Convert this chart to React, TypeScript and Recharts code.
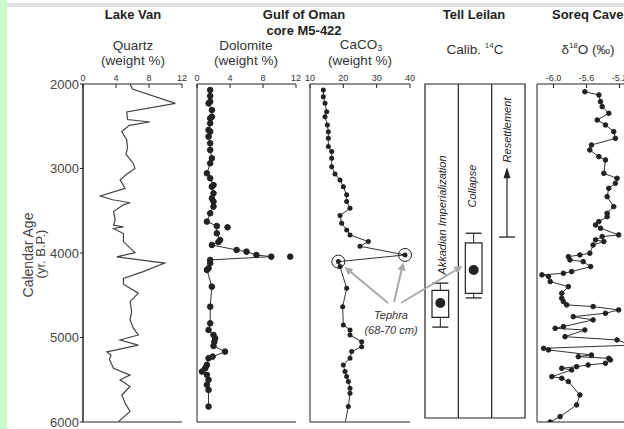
import React from 'react';
import { LineChart, Line, XAxis, YAxis, ReferenceLine, ReferenceArea, ReferenceDot } from 'recharts';

// ---- data ----
const ageTicks = [2000, 3000, 4000, 5000, 6000];
const markedAges = [3000, 4000, 5000];
const minorAgeTicks = Array.from({ length: 41 }, (_, i) => 2000 + i * 100);

const quartzTicks = [0, 4, 8, 12];
const dolomiteTicks = [0, 4, 8, 12];
const caco3Ticks = [10, 20, 30, 40];
const d18oTicks = [-6.0, -5.6, -5.2, -4.8];

const lakeVanAge = [2000, 2060, 2230, 2330, 2420, 2450, 2490, 2565, 2660, 2760, 2830, 2940, 3000, 3060, 3135, 3235, 3325, 3370, 3405, 3430,
  3510, 3610, 3670, 3690, 3710, 3770, 3865, 3940, 3995, 4045, 4120, 4220, 4300, 4370, 4475, 4575, 4695, 4790, 4890, 4970,
  5030, 5090, 5170, 5210, 5260, 5365, 5445, 5500, 5580, 5680, 5775, 5875, 5995];
const lakeVanQuartz = [5.7, 6.0, 11.2, 5.3, 5.4, 8.1, 5.6, 4.7, 5.3, 5.4, 5.2, 6.1, 6.3, 5.4, 4.5, 5.1, 2.1, 3.6, 5.7, 4.9,
  3.7, 3.9, 3.7, 4.9, 3.7, 4.9, 4.9, 5.7, 6.3, 4.1, 9.9, 7.3, 4.9, 4.9, 6.7, 5.7, 5.9, 5.7, 6.1, 6.7,
  4.5, 6.7, 2.9, 3.4, 3.2, 3.7, 5.7, 4.5, 5.7, 4.7, 5.1, 5.7, 4.3];

const dolomiteAge = [2071, 2142, 2209, 2229, 2308, 2387, 2406, 2465, 2544, 2564, 2623, 2702, 2781, 2879, 2938, 3057, 3116, 3195, 3215, 3293,
  3352, 3392, 3451, 3530, 3628, 3680, 3767, 3846, 3870, 3905, 3964, 3984, 4023, 4043, 4082, 4121, 4180, 4200, 4398, 4635,
  4832, 4911, 4970, 5010, 5050, 5100, 5167, 5226, 5245, 5324, 5363, 5403, 5442, 5501, 5560, 5620, 5817];
const dolomiteValue = [1.6, 1.6, 1.6, 1.4, 1.8, 1.8, 1.6, 1.6, 1.4, 1.6, 1.4, 1.6, 1.6, 1.8, 1.6, 1.2, 1.6, 2.0, 1.8, 2.0,
  1.8, 2.0, 2.0, 1.6, 1.2, 2.4, 2.4, 2.8, 2.6, 1.8, 4.8, 6.0, 7.2, 9.0, 1.6, 1.6, 1.4, 1.2, 1.8, 1.6,
  1.6, 1.4, 2.0, 2.2, 2.1, 2.0, 3.4, 1.9, 1.4, 1.2, 1.0, 0.6, 1.2, 1.4, 1.2, 1.4, 1.4];
const dolomiteOutlierAge = [3696, 4043];
const dolomiteOutlierValue = [3.7, 11.3];

const caco3Age = [2071, 2150, 2229, 2327, 2387, 2485, 2564, 2643, 2741, 2800, 2879, 2978, 3065, 3135, 3215, 3312, 3392, 3471, 3557, 3648,
  3727, 3786, 3865, 3920, 4023, 4102, 4161, 4417, 4635, 4852, 4911, 4970, 5049, 5108, 5167, 5245, 5324, 5403, 5462, 5521,
  5600, 5659, 5817, 5995];
const caco3Value = [14.0, 14.0, 14.5, 15.0, 14.5, 15.2, 15.5, 15.5, 15.5, 16.5, 16.5, 16.5, 17.5, 19.0, 20.0, 21.0, 21.0, 22.0, 19.0, 19.5,
  21.0, 22.0, 27.5, 25.0, 38.5, 18.5, 19.0, 21.0, 19.8, 20.0, 22.0, 22.0, 25.5, 25.5, 22.5, 22.0, 20.0, 20.5, 21.0, 21.5,
  22.0, 22.0, 21.5, 20.6];
const tephraAge = [4023, 4102];

const soreqAge = [2091, 2130, 2209, 2268, 2347, 2426, 2485, 2564, 2643, 2722, 2781, 2860, 2899, 3057, 3116, 3175, 3234, 3333, 3451, 3530,
  3570, 3628, 3668, 3707, 3786, 3806, 3845, 3865, 3905, 4003, 4023, 4043, 4082, 4102, 4161, 4220, 4240, 4259, 4279, 4338,
  4398, 4476, 4535, 4575, 4614, 4634, 4674, 4713, 4753, 4792, 4871, 4891, 4911, 4990, 5029, 5090, 5128, 5147, 5207, 5227,
  5246, 5266, 5305, 5325, 5345, 5364, 5384, 5463, 5483, 5522, 5680, 5798, 5936, 6000];
const soreqD18O = [-5.62, -5.45, -5.43, -5.41, -5.33, -5.47, -5.37, -5.27, -5.25, -5.54, -5.56, -5.45, -5.37, -5.39, -5.23, -5.25, -5.33, -5.35, -5.27, -5.35,
  -5.35, -5.45, -5.49, -5.43, -5.21, -5.41, -5.49, -5.39, -5.52, -5.56, -5.68, -5.82, -5.80, -5.64, -5.55, -5.78, -5.88, -6.14, -6.06, -6.04,
  -5.82, -5.90, -5.90, -5.88, -5.84, -5.52, -5.21, -5.37, -5.76, -5.52, -5.88, -5.98, -5.62, -5.86, -5.23, -5.05, -6.12, -6.06, -5.54, -5.70,
  -5.33, -5.31, -5.37, -5.58, -5.72, -5.90, -5.78, -6.02, -5.90, -5.82, -5.68, -5.72, -5.92, -6.04];

// Tell Leilan calibrated 14C ranges (yr B.P.)
const leilanEvents = ['Akkadian Imperialization', 'Collapse'];
const leilanMid = [4590, 4200];
const leilanBoxTop = [4440, 3880];
const leilanBoxBottom = [4760, 4475];
const leilanWhiskerTop = [4355, 3765];
const leilanWhiskerBottom = [4875, 4530];
const resettlementLabel = 'Resettlement';
const resettlementFrom = 3810;
const resettlementTo = 2985;

const zip = (ages: number[], vals: number[]) => ages.map((age, i) => ({ age, v: vals[i] }));

// ---- layout ----
const FONT = '"Liberation Sans", Arial, Helvetica, sans-serif';
const W = 624;
const H = 429;
const TOP = 84;
const BOTTOM = 422;
const SIDE = 30;
const TOP_AXIS_H = 20;
const INK = '#222';
const COL_OFF = 0.46; // box centre inside each Tell Leilan column

// an axis of width/height 0 is not drawn at all, so the tick-only axes get 1px
function panelAxes(domain: [number, number], ticks: number[], fmt?: (v: number) => string) {
  return [
    <XAxis key="xt" xAxisId="top" orientation="top" type="number" domain={domain} ticks={ticks} allowDataOverflow
      interval={0} height={TOP_AXIS_H} tickSize={-4} tickMargin={7} stroke={INK}
      tick={{ fontSize: 9, fill: '#333' }} tickFormatter={fmt} />,
    <XAxis key="xb" xAxisId="bottom" orientation="bottom" type="number" domain={domain} ticks={ticks} allowDataOverflow
      interval={0} height={1} tickSize={-5} tick={false} stroke={INK} />,
    <YAxis key="y" type="number" dataKey="age" domain={[2000, 6000]} allowDataOverflow ticks={minorAgeTicks}
      interval={0} width={1} tick={false} tickSize={-4} stroke={INK} />,
  ];
}

function Panel({ left, right, children }: { left: number; right: number; children: React.ReactNode }) {
  return (
    <div style={{ position: 'absolute', left: left - SIDE, top: 0 }}>
      <LineChart layout="vertical" width={right - left + 2 * SIDE} height={H}
        margin={{ top: TOP - TOP_AXIS_H, right: SIDE, bottom: H - BOTTOM - 1, left: SIDE - 1 }}>
        {children}
      </LineChart>
    </div>
  );
}

const dotStyle = { r: 2.6, fill: INK, stroke: INK, strokeWidth: 1 };

const tephraArrows = [
  [388, 303, 346, 268],
  [394, 302, 403, 264],
  [401, 303, 461, 267],
];

export default function App() {
  const caco3Data = zip(caco3Age, caco3Value);
  const tephraPoints = tephraAge.map((a) => caco3Data.find((d) => d.age === a)!);
  const leilanData = leilanMid.map((age, i) => ({ age, col: i + COL_OFF }));

  return (
    <div style={{ position: 'absolute', left: 0, top: 0, width: W, height: H, overflow: 'hidden', background: '#fff', fontFamily: FONT }}>
      <div style={{ position: 'absolute', left: 0, top: 0, width: 7, height: H, background: '#c8fcc8' }} />
      <div style={{ position: 'absolute', left: 7, top: 3, width: W - 7, height: 4, background: '#e0e0e8' }} />

      {/* age axis + dotted time lines */}
      <div style={{ position: 'absolute', left: 0, top: 0 }}>
        <LineChart width={W} height={H} margin={{ top: TOP, right: 0, bottom: H - BOTTOM, left: 83 - 44 }}>
          <XAxis type="number" domain={[0, 1]} hide allowDataOverflow />
          <YAxis type="number" domain={[2000, 6000]} reversed allowDataOverflow ticks={ageTicks} interval={0} width={44}
            tickSize={3} tickMargin={1} stroke={INK} tick={{ fontSize: 13, fill: '#444' }} />
          {markedAges.map((a) => (
            <ReferenceLine key={a} y={a} stroke="#777" strokeWidth={1.4} strokeDasharray="1.5 1.5" />
          ))}
        </LineChart>
      </div>

      {/* Lake Van quartz */}
      <Panel left={83} right={182}>
        {panelAxes([0, 12], quartzTicks)}
        <Line xAxisId="top" data={zip(lakeVanAge, lakeVanQuartz)} dataKey="v" stroke="#444" strokeWidth={1.2}
          dot={false} isAnimationActive={false} />
      </Panel>

      {/* Gulf of Oman dolomite */}
      <Panel left={197} right={296}>
        {panelAxes([0, 12], dolomiteTicks)}
        <Line xAxisId="top" data={zip(dolomiteAge, dolomiteValue)} dataKey="v" stroke="#333" strokeWidth={1}
          dot={{ ...dotStyle, r: 2.8 }} isAnimationActive={false} />
        <Line xAxisId="top" data={zip(dolomiteOutlierAge, dolomiteOutlierValue)} dataKey="v" stroke="none"
          dot={{ ...dotStyle, r: 2.8 }} isAnimationActive={false} />
      </Panel>

      {/* Gulf of Oman CaCO3 */}
      <Panel left={310} right={410}>
        {panelAxes([10, 40], caco3Ticks)}
        <Line xAxisId="top" data={caco3Data} dataKey="v" stroke="#333" strokeWidth={1} isAnimationActive={false}
          dot={(p: any) =>
            p.index === caco3Data.length - 1
              ? <g key={`d${p.index}`} />
              : <circle key={`d${p.index}`} cx={p.cx} cy={p.cy} r={2.5} fill={INK} />}
        />
        {tephraPoints.map((d) => (
          <ReferenceDot key={d.age} xAxisId="top" x={d.v} y={d.age} r={6.5} fill="none" stroke={INK} strokeWidth={1} />
        ))}
      </Panel>

      {/* Tell Leilan */}
      <div style={{ position: 'absolute', left: 425 - SIDE, top: 0 }}>
        <LineChart layout="vertical" width={100 + 2 * SIDE} height={H} margin={{ top: TOP, right: SIDE, bottom: H - 418, left: SIDE }}>
          <XAxis type="number" domain={[0, 3]} hide allowDataOverflow />
          <YAxis type="number" dataKey="age" domain={[2000, 5950]} hide allowDataOverflow />
          <ReferenceArea x1={0} x2={3} y1={2000} y2={5950} fill="none" stroke={INK} strokeWidth={1.2} ifOverflow="visible" />
          {[1, 2].map((c) => (
            <ReferenceLine key={c} segment={[{ x: c, y: 2000 }, { x: c, y: 5950 }]} stroke={INK} strokeWidth={1.2} />
          ))}
          {leilanEvents.map((name, i) => {
            const c = i + COL_OFF;
            return [
              <ReferenceLine key={`wt${i}`} segment={[{ x: c, y: leilanWhiskerTop[i] }, { x: c, y: leilanBoxTop[i] }]} stroke={INK} />,
              <ReferenceLine key={`wb${i}`} segment={[{ x: c, y: leilanBoxBottom[i] }, { x: c, y: leilanWhiskerBottom[i] }]} stroke={INK} />,
              <ReferenceLine key={`ct${i}`} segment={[{ x: c - 0.24, y: leilanWhiskerTop[i] }, { x: c + 0.24, y: leilanWhiskerTop[i] }]} stroke={INK} strokeWidth={1.3} />,
              <ReferenceLine key={`cb${i}`} segment={[{ x: c - 0.24, y: leilanWhiskerBottom[i] }, { x: c + 0.24, y: leilanWhiskerBottom[i] }]} stroke={INK} strokeWidth={1.3} />,
              <ReferenceArea key={`b${i}`} x1={c - 0.25} x2={c + 0.25} y1={leilanBoxTop[i]} y2={leilanBoxBottom[i]}
                fill="#fff" fillOpacity={1} stroke={INK} strokeWidth={1.2} />,
            ];
          })}
          <Line data={leilanData} dataKey="col" stroke="none" isAnimationActive={false}
            dot={{ r: 5, fill: INK, stroke: 'none' }} />
          <ReferenceLine segment={[{ x: 2 + COL_OFF, y: resettlementFrom }, { x: 2 + COL_OFF, y: resettlementTo + 60 }]} stroke={INK} strokeWidth={1.2} />
          <ReferenceLine segment={[{ x: 1.76 + COL_OFF, y: resettlementFrom }, { x: 2.24 + COL_OFF, y: resettlementFrom }]} stroke={INK} strokeWidth={1.3} />
          <ReferenceDot x={2 + COL_OFF} y={resettlementTo} r={1}
            shape={(p: any) => <path d={`M${p.cx},${p.cy} L${p.cx - 3.5},${p.cy + 11} L${p.cx + 3.5},${p.cy + 11} Z`} fill={INK} />} />
          {[[0.52, 3550, leilanEvents[0]], [1.42, 3207, leilanEvents[1]], [2.46, 2544, resettlementLabel]].map(([x, y, t]) => (
            <ReferenceDot key={String(t)} x={x as number} y={y as number} r={1}
              shape={(p: any) => (
                <text x={p.cx} y={p.cy} dy="0.35em" transform={`rotate(-90 ${p.cx} ${p.cy})`} textAnchor="middle"
                  fontSize={11} fontStyle="italic" fill={INK} fontFamily={FONT}>{t as string}</text>
              )} />
          ))}
        </LineChart>
      </div>

      {/* Soreq Cave d18O */}
      <Panel left={537} right={636}>
        {panelAxes([-6.2, -5.0], d18oTicks, (v) => v.toFixed(1))}
        <Line xAxisId="top" data={zip(soreqAge, soreqD18O)} dataKey="v" stroke="#333" strokeWidth={1}
          dot={{ ...dotStyle, r: 2.3 }} isAnimationActive={false} />
      </Panel>

      {/* titles and annotations */}
      <svg width={W} height={H} style={{ position: 'absolute', left: 0, top: 0, pointerEvents: 'none' }} fontFamily={FONT}>
        <defs>
          <marker id="ah" viewBox="0 0 10 10" refX="8" refY="5" markerWidth="4" markerHeight="4" orient="auto">
            <path d="M0,0 L10,5 L0,10 Z" fill="#a8a8a8" />
          </marker>
        </defs>
        <g fontWeight="bold" fontSize={13} fill={INK}>
          <text x={133} y={19} textAnchor="middle">Lake Van</text>
          <text x={304} y={19} textAnchor="middle">Gulf of Oman</text>
          <text x={304} y={35} textAnchor="middle">core M5-422</text>
          <text x={474} y={19} textAnchor="middle">Tell Leilan</text>
          <text x={552} y={19}>Soreq Cave</text>
        </g>
        <g fontSize={13.5} fill="#333" textAnchor="middle">
          <text x={133} y={50}>Quartz</text>
          <text x={133} y={65}>(weight %)</text>
          <text x={246} y={50}>Dolomite</text>
          <text x={246} y={65}>(weight %)</text>
          <text x={361} y={49}>CaCO<tspan fontSize={9} dy={2}>3</tspan></text>
          <text x={360} y={65}>(weight %)</text>
          <text x={475} y={54}>Calib. <tspan fontSize={8} dy={-6}>14</tspan><tspan dy={6}>C</tspan></text>
          <text x={588} y={54}>δ<tspan fontSize={8} dy={-6}>18</tspan><tspan dy={6}>O (‰)</tspan></text>
        </g>
        <g fill="#444" textAnchor="middle">
          <text x={33} y={255} fontSize={14} transform="rotate(-90 33 255)">Calendar Age</text>
          <text x={45} y={254} fontSize={13} transform="rotate(-90 45 254)">(yr. B.P.)</text>
        </g>
        {tephraArrows.map(([x1, y1, x2, y2], i) => (
          <line key={i} x1={x1} y1={y1} x2={x2} y2={y2} stroke="#a8a8a8" strokeWidth={2} markerEnd="url(#ah)" />
        ))}
        <g fontSize={11} fontStyle="italic" fill="#333" textAnchor="middle">
          <text x={391} y={319}>Tephra</text>
          <text x={391} y={334}>(68-70 cm)</text>
        </g>
      </svg>
    </div>
  );
}
